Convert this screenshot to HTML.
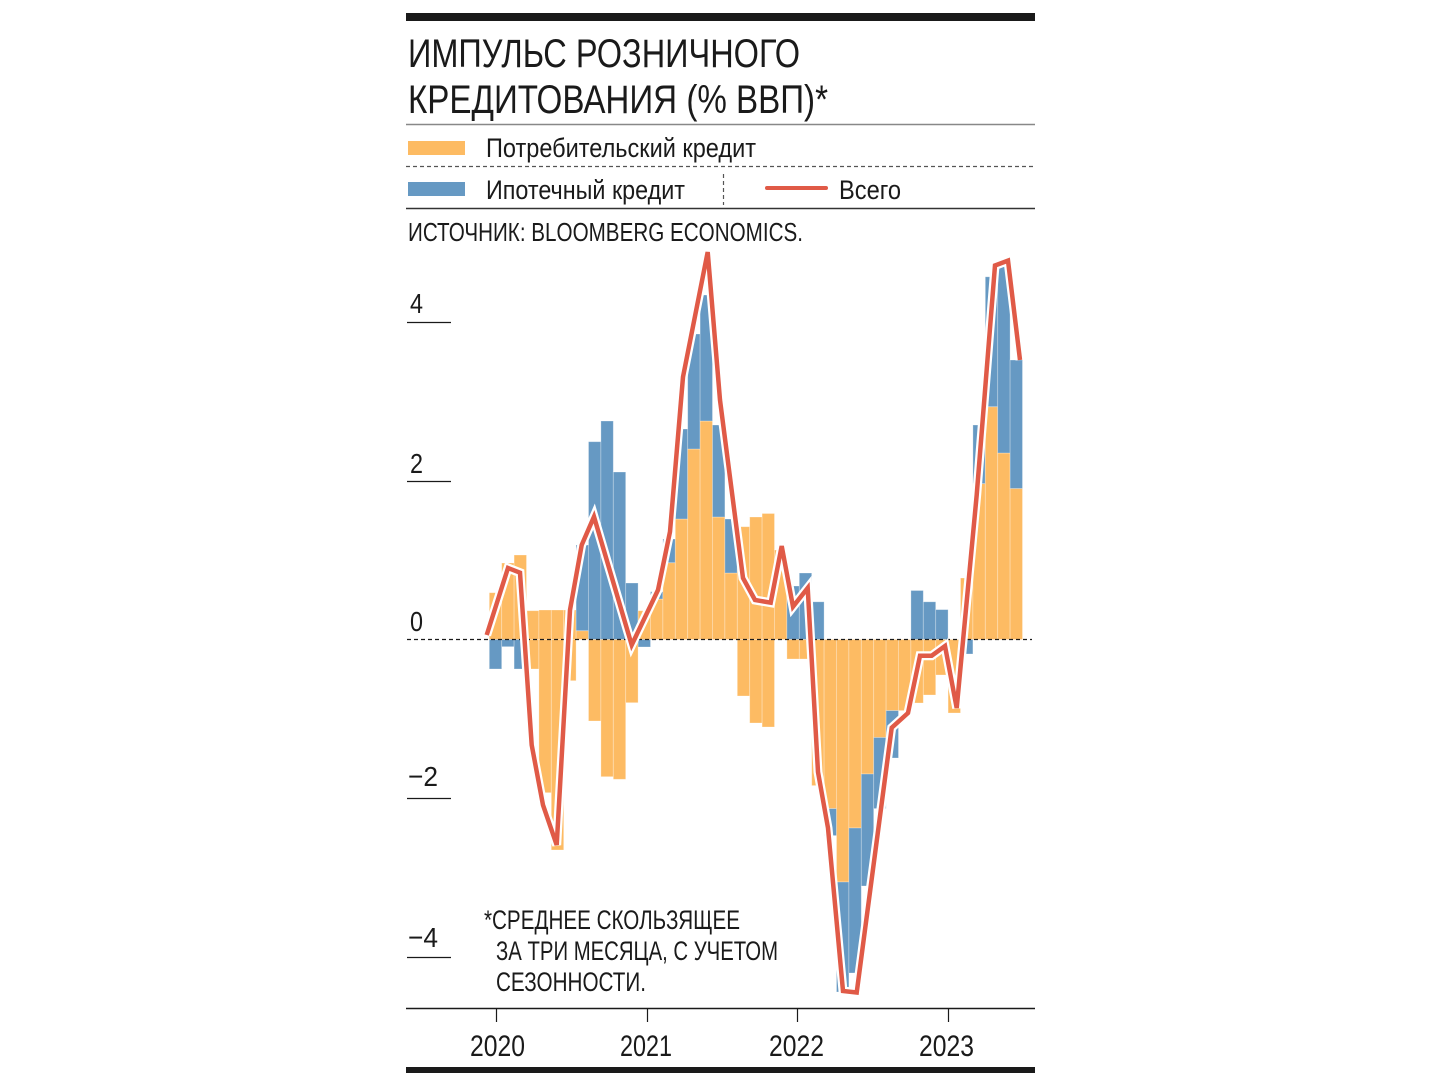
<!DOCTYPE html>
<html><head><meta charset="utf-8"><style>
html,body{margin:0;padding:0;background:#fff;}
svg{display:block;}
text{font-family:"Liberation Sans Narrow","Liberation Sans",sans-serif;fill:#1a1a1a;}
</style></head><body>
<svg width="1440" height="1080" viewBox="0 0 1440 1080" xmlns="http://www.w3.org/2000/svg">
<rect x="406" y="13" width="629" height="8" fill="#1a1a1a"/>
<text x="408" y="67" font-size="40" textLength="392" lengthAdjust="spacingAndGlyphs">ИМПУЛЬС РОЗНИЧНОГО</text>
<text x="408" y="113" font-size="40" textLength="420" lengthAdjust="spacingAndGlyphs">КРЕДИТОВАНИЯ (% ВВП)*</text>
<line x1="406" y1="124.5" x2="1035" y2="124.5" stroke="#888" stroke-width="1.5"/>
<rect x="408" y="141" width="57" height="14" fill="#fdbb63"/>
<text x="486" y="157" font-size="27" textLength="270" lengthAdjust="spacingAndGlyphs">Потребительский кредит</text>
<line x1="406" y1="166.5" x2="1035" y2="166.5" stroke="#555" stroke-width="1.2" stroke-dasharray="4,3"/>
<rect x="408" y="182" width="57" height="14" fill="#6699c3"/>
<text x="486" y="199" font-size="27" textLength="199" lengthAdjust="spacingAndGlyphs">Ипотечный кредит</text>
<line x1="723.5" y1="174" x2="723.5" y2="205" stroke="#555" stroke-width="1.2" stroke-dasharray="4,3"/>
<line x1="767" y1="188" x2="826" y2="188" stroke="#e05a47" stroke-width="4" stroke-linecap="round"/>
<text x="839" y="199" font-size="27" textLength="62" lengthAdjust="spacingAndGlyphs">Всего</text>
<line x1="406" y1="208.5" x2="1035" y2="208.5" stroke="#333" stroke-width="1.5"/>
<text x="408" y="241" font-size="26" textLength="395" lengthAdjust="spacingAndGlyphs">ИСТОЧНИК: BLOOMBERG ECONOMICS.</text>

<g stroke="#1a1a1a" stroke-width="1.2">
<line x1="407" y1="322.5" x2="451" y2="322.5"/>
<line x1="407" y1="481.5" x2="451" y2="481.5"/>
<line x1="407" y1="798.5" x2="451" y2="798.5"/>
<line x1="407" y1="957.5" x2="451" y2="957.5"/>
</g>
<g font-size="28">
<text x="410" y="313" textLength="13" lengthAdjust="spacingAndGlyphs">4</text>
<text x="410" y="473" textLength="13" lengthAdjust="spacingAndGlyphs">2</text>
<text x="410" y="631" textLength="13" lengthAdjust="spacingAndGlyphs">0</text>
<text x="408" y="786" textLength="30" lengthAdjust="spacingAndGlyphs">−2</text>
<text x="408" y="947" textLength="30" lengthAdjust="spacingAndGlyphs">−4</text>
</g>

<g id="bars" stroke="#fff" stroke-opacity="0.35" stroke-width="0.8"></g>

<line x1="407" y1="639.5" x2="1032" y2="639.5" stroke="#1a1a1a" stroke-width="1.2" stroke-dasharray="4,3"/>

<polyline id="lw" fill="none" stroke="#fff" stroke-width="9" stroke-linejoin="miter" points=""/>
<polyline id="lr" fill="none" stroke="#e05a47" stroke-width="4.5" stroke-linejoin="miter" points=""/>

<g font-size="27">
<text x="484" y="929" textLength="256" lengthAdjust="spacingAndGlyphs">*СРЕДНЕЕ СКОЛЬЗЯЩЕЕ</text>
<text x="496" y="960" textLength="282" lengthAdjust="spacingAndGlyphs">ЗА ТРИ МЕСЯЦА, С УЧЕТОМ</text>
<text x="496" y="991" textLength="150" lengthAdjust="spacingAndGlyphs">СЕЗОННОСТИ.</text>
</g>

<line x1="406" y1="1008.5" x2="1035" y2="1008.5" stroke="#1a1a1a" stroke-width="1.5"/>
<g stroke="#1a1a1a" stroke-width="1.2">
<line x1="496.5" y1="1008" x2="496.5" y2="1022"/>
<line x1="647.5" y1="1008" x2="647.5" y2="1022"/>
<line x1="797.5" y1="1008" x2="797.5" y2="1022"/>
<line x1="948.5" y1="1008" x2="948.5" y2="1022"/>
</g>
<g font-size="30">
<text x="470" y="1056" textLength="55" lengthAdjust="spacingAndGlyphs">2020</text>
<text x="620" y="1056" textLength="52" lengthAdjust="spacingAndGlyphs">2021</text>
<text x="769" y="1056" textLength="55" lengthAdjust="spacingAndGlyphs">2022</text>
<text x="919" y="1056" textLength="55" lengthAdjust="spacingAndGlyphs">2023</text>
</g>
<rect x="406" y="1067" width="629" height="6" fill="#1a1a1a"/>
</svg>
<script>
var Z=639.5,O="#fdbb63",B="#6699c3";
var d=[
[592.7,null,null,669],[563,null,null,646.7],[555,null,null,669],[610.7,null,669,null],
[610,null,792.7,null],[610,null,850,null],[610,null,680.7,null],[630.7,545,null,null],
[null,441.7,721,null],[null,421,776.7,null],[null,472,779.3,null],[null,583,702.7,null],
[610.7,null,null,647],[599,591.7,null,null],[562.7,539,null,null],[519,429,null,null],
[449,334,null,null],[421,295,null,null],[517,425,null,null],[573,519,null,null],
[526.7,null,696,null],[517,null,723,null],[513.5,null,727,null],[550,null,null,null],
[null,586,659,null],[null,573,659,null],[null,601.8,785.6,null],[null,null,808.6,835.6],
[null,null,882,992],[null,null,828,973],[null,null,774,886],[null,null,737.5,808.6],
[null,null,710.6,758],[null,null,710.6,null],[null,590.5,703,null],[null,601.8,695,null],
[null,609.6,675,null],[null,null,713,null],[578,null,null,654],[483.6,425,null,null],
[406.7,276.8,null,null],[453,265.5,null,null],[488.5,360,null,null]];
var g=document.getElementById("bars"),s="",w=12.4;
d.forEach(function(b,i){var x=(489.3+w*i).toFixed(1);
function r(y1,y2,c){if(y1>y2){var t=y1;y1=y2;y2=t;}s+='<rect x="'+x+'" y="'+y1.toFixed(1)+'" width="'+w+'" height="'+(y2-y1).toFixed(1)+'" fill="'+c+'"/>';}
var op=b[0],bp=b[1],on=b[2],bn=b[3];
if(op!=null)r(op,Z,O);
if(bp!=null)r(bp,op!=null?op:Z,B);
if(on!=null)r(Z,on,O);
if(bn!=null)r(on!=null?on:Z,bn,B);
});
g.innerHTML=s;
var p="486.7,635 508,568 520,572.7 531.7,745 543,805 556.7,845 570,610 581.7,545 594,516.7 631.7,645 658,590 670,531.7 683,377 707.7,252 720,400 743,578 755,600 770.7,602.7 781.7,546 793,606.7 807.7,588 818,772 828,828 843,991 856.7,992.5 891.7,727.7 908,713 920,655.7 931.7,655.7 945,646 956.7,708 976.7,495 995,265.5 1008,260.6 1020,360";
document.getElementById("lw").setAttribute("points",p);
document.getElementById("lr").setAttribute("points",p);
</script>
</body></html>
